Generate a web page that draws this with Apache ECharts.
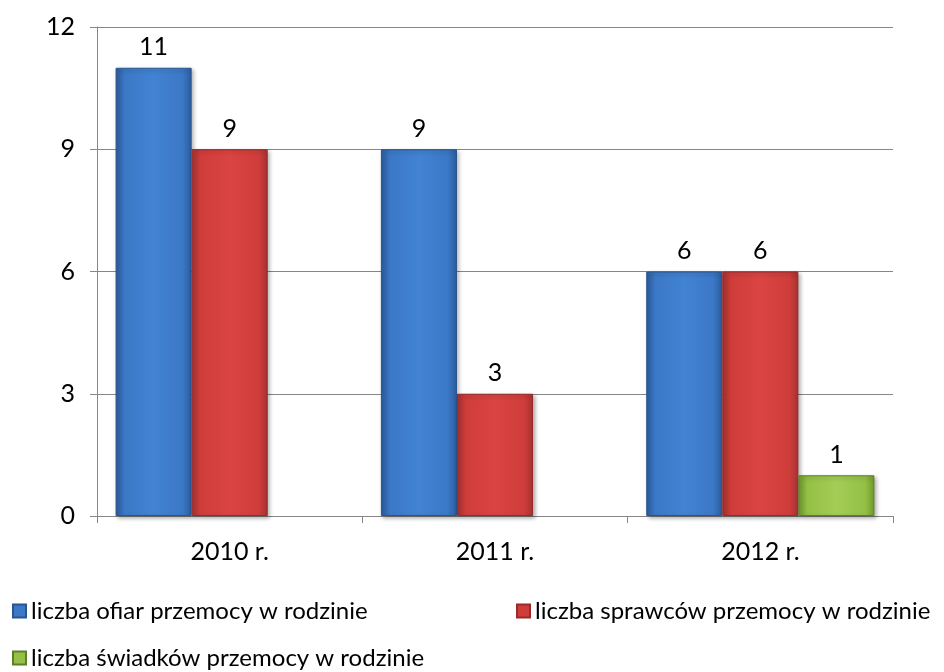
<!DOCTYPE html>
<html>
<head>
<meta charset="utf-8">
<script src="https://cdn.jsdelivr.net/npm/echarts@6/dist/echarts.min.js"></script>
<style>
  html, body { margin: 0; padding: 0; background: #fff; }
  #chart { width: 944px; height: 672px; }
</style>
</head>
<body>
<div id="chart"></div>
<script>
// dane z wykresu
var years = ['2010 r.', '2011 r.', '2012 r.'];
var ofiary = [11, 9, 6];
var sprawcy = [9, 3, 6];
var swiadkowie = [0, 0, 1];
var yTicks = [0, 3, 6, 9, 12];
var names = [
  'liczba ofiar przemocy w rodzinie',
  'liczba sprawców przemocy w rodzinie',
  'liczba świadków przemocy w rodzinie'
];

var FONT = 'Lato';
var FS = 25;

function grad(light, mid, dark) {
  return new echarts.graphic.LinearGradient(0, 0, 1, 0, [
    { offset: 0, color: dark },
    { offset: 0.12, color: mid },
    { offset: 0.5, color: light },
    { offset: 0.88, color: mid },
    { offset: 1, color: dark }
  ]);
}

var colors = [
  { fill: grad('#4283d3', '#3b78c6', '#2c5d9e'), border: '#2a558f', flat: '#3b78c6' },
  { fill: grad('#db4442', '#cf3d3b', '#a83231'), border: '#962b2a', flat: '#cf3d3b' },
  { fill: grad('#a3cd55', '#94c046', '#6f9a2e'), border: '#5c8026', flat: '#94c046' }
];

function makeSeries(i, values) {
  return {
    name: names[i],
    type: 'bar',
    // zera nie są rysowane na oryginale
    data: values.map(function (v) { return v === 0 ? null : v; }),
    barGap: '0%',
    barCategoryGap: '14%',
    itemStyle: {
      color: colors[i].fill,
      borderColor: colors[i].border,
      borderWidth: 1,
      shadowColor: 'rgba(0,0,0,0.3)',
      shadowBlur: 4,
      shadowOffsetX: 2,
      shadowOffsetY: 2
    },
    label: {
      show: true,
      position: 'top',
      distance: 5,
      fontFamily: FONT,
      fontSize: FS,
      color: '#000',
      backgroundColor: '#fff',
      padding: [3, 8, 3, 8]
    },
    emphasis: { disabled: true }
  };
}

// jedna legenda na pozycję
function makeLegend(i, left, top) {
  return {
    data: [{ name: names[i], itemStyle: { color: colors[i].flat } }],
    left: left,
    top: top,
    padding: 0,
    itemWidth: 13,
    itemHeight: 13,
    icon: 'rect',
    textStyle: { fontFamily: FONT, fontSize: 24, color: '#000' }
  };
}

var chart = echarts.init(document.getElementById('chart'));
chart.setOption({
  animation: false,
  textStyle: { fontFamily: FONT },
  grid: { left: 97, right: 51, top: 27, bottom: 156 },
  legend: [
    makeLegend(0, 12, 599),
    makeLegend(1, 516, 599),
    makeLegend(2, 12, 646)
  ],
  xAxis: {
    type: 'category',
    data: years,
    axisLine: { lineStyle: { color: '#868686', width: 1 } },
    axisTick: { show: true, length: 7, lineStyle: { color: '#868686' } },
    axisLabel: { fontFamily: FONT, fontSize: FS, color: '#000', margin: 23 }
  },
  yAxis: {
    type: 'value',
    min: yTicks[0],
    max: yTicks[yTicks.length - 1],
    interval: 3,
    axisLine: { show: true, lineStyle: { color: '#868686', width: 1 } },
    axisTick: { show: true, length: 7, lineStyle: { color: '#868686' } },
    axisLabel: { fontFamily: FONT, fontSize: FS, color: '#000', margin: 22 },
    splitLine: { lineStyle: { color: '#868686', width: 1 } }
  },
  series: [
    makeSeries(0, ofiary),
    makeSeries(1, sprawcy),
    makeSeries(2, swiadkowie)
  ]
});
</script>
</body>
</html>
